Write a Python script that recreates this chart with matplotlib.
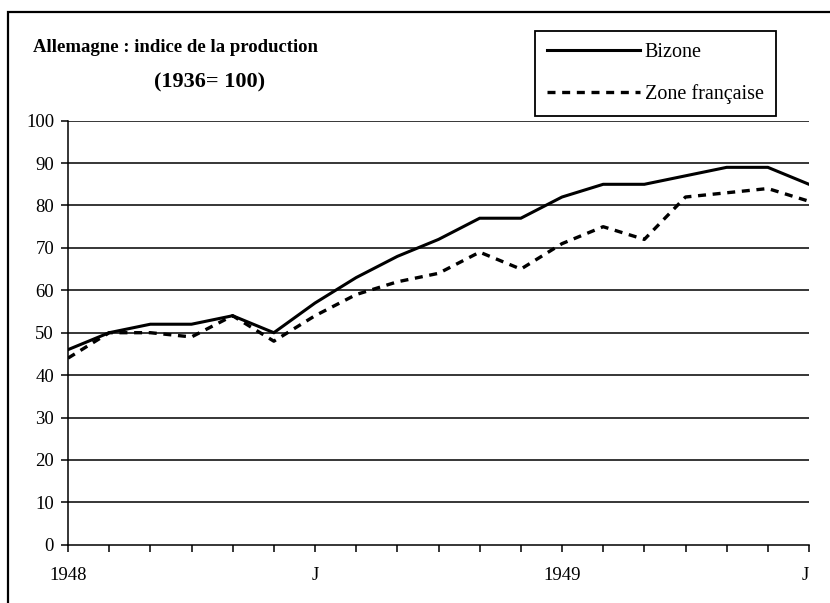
import matplotlib
matplotlib.use("Agg")
import matplotlib.pyplot as plt
from matplotlib.patches import Rectangle

plt.rcParams["font.family"] = ["Liberation Serif", "DejaVu Serif"]

# Monthly production index, January 1948 to July 1949 (1936 = 100)
months = list(range(19))
bizone = [46, 50, 52, 52, 54, 50, 57, 63, 68, 72, 77, 77, 82, 85, 85, 87, 89, 89, 85]
zone_francaise = [44, 50, 50, 49, 54, 48, 54, 59, 62, 64, 69, 65, 71, 75, 72, 82, 83, 84, 81]
tick_labels = {0: "1948", 6: "J", 12: "1949", 18: "J"}
y_ticks = list(range(0, 101, 10))

fig = plt.figure(figsize=(8.30, 6.03), dpi=100)
ax = fig.add_axes([68 / 830, 1 - 544.7 / 603, (809 - 68) / 830, (544.7 - 120.7) / 603])

# Outer frame around the whole chart
fig.patches.append(Rectangle((8 / 830, -0.1), 1.2, 1 - 12 / 603 + 0.1,
                             transform=fig.transFigure, fill=False,
                             edgecolor="black", linewidth=1.6, clip_on=False))

for v in y_ticks[1:]:
    ax.axhline(v, color="black", linewidth=1.1, zorder=1)

ax.plot(months, bizone, color="black", linewidth=2.2, solid_joinstyle="miter",
        label="Bizone", zorder=3)
ax.plot(months, zone_francaise, color="black", linewidth=2.4,
        linestyle=(0, (2.4, 2.0)), dash_capstyle="butt", label="Zone française", zorder=3)

ax.set_xlim(0, 18)
ax.set_ylim(0, 100)
ax.set_xticks(months)
ax.set_xticklabels([tick_labels.get(m, "") for m in months])
ax.set_yticks(y_ticks)
ax.get_xticklabels()[-1].set_horizontalalignment("right")

for side in ("top", "right"):
    ax.spines[side].set_visible(False)
for side in ("left", "bottom"):
    ax.spines[side].set_linewidth(1.1)

ax.tick_params(axis="x", direction="out", length=5, width=1.1, pad=11, labelsize=13.5)
ax.tick_params(axis="y", direction="out", length=5, width=1.1, pad=5, labelsize=13.5)

fig.text(33 / 830, 1 - 48 / 603, "Allemagne : indice de la production",
         fontsize=13.5, fontweight="bold", ha="left", va="center")
fig.text(210 / 830, 1 - 82 / 603, "(1936= 100)",
         fontsize=16, fontweight="bold", ha="center", va="center")

leg = ax.legend(loc="upper left", bbox_to_anchor=(535 / 830, 1 - 31 / 603),
                bbox_transform=fig.transFigure, borderaxespad=0,
                fontsize=14.5, handlelength=4.6, handletextpad=0.25,
                labelspacing=1.08, borderpad=0.6, fancybox=False,
                frameon=True, framealpha=1)
leg.get_frame().set_edgecolor("black")
leg.get_frame().set_linewidth(1.3)

fig.savefig("out.png", dpi=100)
